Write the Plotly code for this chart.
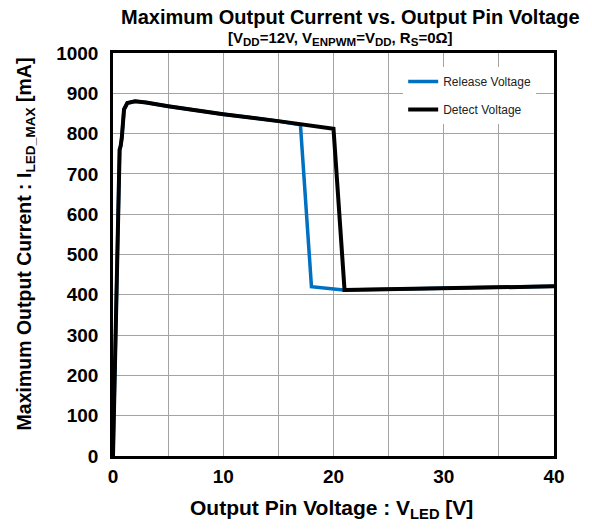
import plotly.graph_objects as go

# Data
release_v = [0, 0.3, 0.5, 0.6, 0.7, 0.8, 1.0, 1.3, 2.0, 3.0, 5.0, 10.0, 15.0, 17.0, 18.0, 20.9, 25.0, 30.0, 35.0, 40.0]
release_i = [0, 400, 650, 760, 770, 790, 860, 876, 880, 877, 868, 848, 831, 822, 420, 412, 414, 417, 419, 421]

detect_v = [0, 0.3, 0.5, 0.6, 0.7, 0.8, 1.0, 1.3, 2.0, 3.0, 5.0, 10.0, 15.0, 17.0, 20.0, 21.0, 25.0, 30.0, 35.0, 40.0]
detect_i = [0, 400, 650, 760, 770, 790, 860, 876, 880, 877, 868, 848, 831, 824, 812, 412, 414, 417, 419, 421]

x_ticks = [0, 10, 20, 30, 40]
x_minor = [5, 15, 25, 35]
y_ticks = [0, 100, 200, 300, 400, 500, 600, 700, 800, 900, 1000]

FONT = "Liberation Sans, Arial, sans-serif"
GRID = "#A3A3A3"
SUB = "<sub><span style='font-size:11.5px'>{}</span></sub>"

fig = go.Figure()
fig.add_trace(go.Scatter(
    x=release_v, y=release_i, mode="lines", name="Release Voltage",
    line=dict(color="#0070C0", width=3.5), legendgroup="r",
))
fig.add_trace(go.Scatter(
    x=detect_v, y=detect_i, mode="lines", name="Detect Voltage",
    line=dict(color="#000000", width=4), legendgroup="d",
))

fig.update_layout(
    width=592, height=529,
    margin=dict(l=113, r=38, t=53, b=73, autoexpand=False),
    paper_bgcolor="white", plot_bgcolor="white",
    font=dict(family=FONT, color="black"),
    showlegend=True,
    legend=dict(
        x=0.658, y=0.965, xanchor="left", yanchor="top",
        bgcolor="white", borderwidth=0,
        font=dict(size=12, color="#222222", family=FONT),
        itemwidth=30, tracegroupgap=9,
    ),
    annotations=[
        dict(text="<b>Maximum Output Current vs. Output Pin Voltage</b>",
             xref="paper", yref="paper", x=0.5385, y=1.0, yshift=36,
             xanchor="center", yanchor="middle", showarrow=False,
             font=dict(size=20, family=FONT, color="black")),
        dict(text="<b>[V" + SUB.format("DD") + "=12V, V" + SUB.format("ENPWM") + "=V"
                  + SUB.format("DD") + ", R" + SUB.format("S") + "=0Ω]</b>",
             xref="paper", yref="paper", x=0.517, y=1.0, yshift=15,
             xanchor="center", yanchor="middle", showarrow=False,
             font=dict(size=15, family=FONT, color="black")),
        dict(text="<b>Output Pin Voltage : V<sub>LED</sub> [V]</b>",
             xref="paper", yref="paper", x=0.495, y=0.0, yshift=-53,
             xanchor="center", yanchor="middle", showarrow=False,
             font=dict(size=21, family=FONT, color="black")),
        dict(text="<b>Maximum Output Current : I<sub>LED_MAX</sub> [mA]</b>",
             xref="paper", yref="paper", x=0.0, y=0.525, xshift=-88,
             xanchor="center", yanchor="middle", showarrow=False, textangle=-90,
             font=dict(size=19.5, family=FONT, color="black")),
    ],
)

fig.update_xaxes(
    range=[0, 40], tickvals=x_ticks, ticktext=[f"<b>{v}</b>" for v in x_ticks],
    showgrid=True, gridcolor=GRID, gridwidth=1,
    minor=dict(tickvals=x_minor, showgrid=True, gridcolor=GRID, gridwidth=1),
    showline=True, linecolor="black", linewidth=2.5, mirror=True,
    zeroline=False, ticks="", automargin=False, ticklabelstandoff=1,
    tickfont=dict(size=19, family=FONT, color="black"),
)
fig.update_yaxes(
    range=[0, 1000], tickvals=y_ticks, ticktext=[f"<b>{v}</b>" for v in y_ticks],
    showgrid=True, gridcolor=GRID, gridwidth=1,
    showline=True, linecolor="black", linewidth=2.5, mirror=True,
    zeroline=False, ticks="", automargin=False, ticklabelstandoff=8,
    tickfont=dict(size=19, family=FONT, color="black"),
)

fig.write_html("out.html", config={"displayModeBar": False},
               post_script="document.body.style.margin='0px';")
